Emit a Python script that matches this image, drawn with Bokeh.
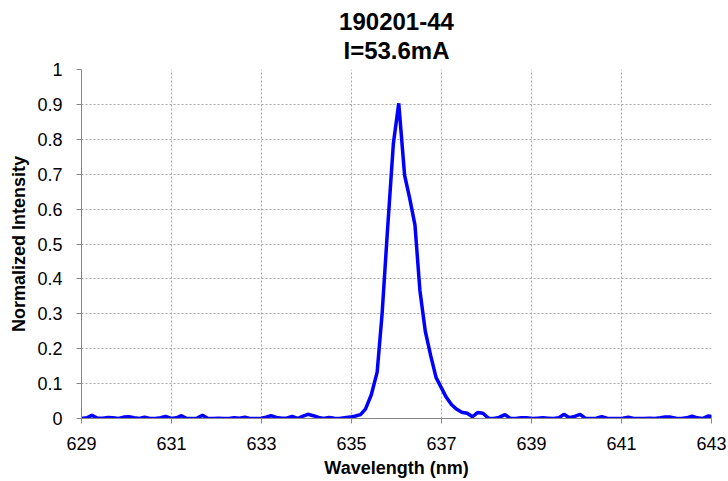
from bokeh.plotting import figure
from bokeh.models import Range1d, FixedTicker, CustomJSTickFormatter, Title
from bokeh.embed import file_html
from bokeh.resources import INLINE

title_line1 = "190201-44"
title_line2 = "I=53.6mA"
x_label = "Wavelength (nm)"
y_label = "Normalized Intensity"

x_ticks = [629, 631, 633, 635, 637, 639, 641, 643]
y_ticks = [0, 0.1, 0.2, 0.3, 0.4, 0.5, 0.6, 0.7, 0.8, 0.9, 1.0]

wavelength = [
    629.00, 629.12, 629.23, 629.35, 629.47, 629.59, 629.70, 629.82, 629.94, 630.05,
    630.17, 630.29, 630.40, 630.52, 630.64, 630.76, 630.87, 630.99, 631.11, 631.22,
    631.34, 631.46, 631.57, 631.69, 631.81, 631.93, 632.04, 632.16, 632.28, 632.39,
    632.51, 632.63, 632.74, 632.86, 632.98, 633.10, 633.21, 633.33, 633.45, 633.56,
    633.68, 633.80, 633.91, 634.03, 634.15, 634.27, 634.38, 634.50, 634.62, 634.73,
    634.85, 634.97, 635.09, 635.20, 635.31, 635.44, 635.57, 635.68, 635.80, 635.93,
    636.05, 636.18, 636.29, 636.41, 636.52, 636.64, 636.76, 636.88, 636.99, 637.10,
    637.22, 637.33, 637.45, 637.57, 637.69, 637.80, 637.92, 638.04, 638.16, 638.28,
    638.41, 638.53, 638.65, 638.77, 638.89, 639.01, 639.13, 639.25, 639.37, 639.49,
    639.61, 639.72, 639.84, 639.96, 640.08, 640.20, 640.32, 640.44, 640.56, 640.68,
    640.80, 640.91, 641.03, 641.15, 641.27, 641.38, 641.50, 641.62, 641.74, 641.86,
    641.97, 642.09, 642.21, 642.33, 642.45, 642.57, 642.68, 642.80, 642.92, 643.04,
]
intensity = [
    0.000, 0.002, 0.009, 0.001, 0.001, 0.003, 0.002, 0.000, 0.004, 0.005,
    0.002, 0.000, 0.004, 0.000, 0.000, 0.002, 0.006, 0.000, 0.002, 0.008,
    0.000, 0.000, 0.001, 0.009, 0.000, 0.000, 0.001, 0.000, 0.000, 0.002,
    0.001, 0.004, 0.000, 0.000, 0.000, 0.004, 0.008, 0.003, 0.001, 0.001,
    0.006, 0.000, 0.006, 0.012, 0.008, 0.003, 0.000, 0.003, 0.001, 0.000,
    0.002, 0.004, 0.007, 0.011, 0.027, 0.068, 0.133, 0.300, 0.540, 0.787,
    0.903, 0.697, 0.633, 0.555, 0.367, 0.250, 0.180, 0.117, 0.090, 0.062,
    0.040, 0.027, 0.018, 0.015, 0.005, 0.017, 0.015, 0.001, 0.000, 0.003,
    0.011, 0.000, 0.000, 0.002, 0.002, 0.000, 0.001, 0.002, 0.001, 0.000,
    0.002, 0.012, 0.002, 0.006, 0.012, 0.000, 0.000, 0.001, 0.005, 0.001,
    0.000, 0.000, 0.001, 0.004, 0.000, 0.000, 0.000, 0.001, 0.000, 0.002,
    0.004, 0.004, 0.001, 0.000, 0.002, 0.007, 0.002, 0.000, 0.007, 0.005,
]

FONT = "Liberation Sans"

p = figure(
    output_backend="svg", toolbar_location=None, title=None,
    width=728, height=481,
    min_border_left=81, min_border_right=17, min_border_top=69, min_border_bottom=63,
    x_range=Range1d(629, 643), y_range=Range1d(0, 1),
)
p.outline_line_color = None
p.background_fill_color = "white"
p.border_fill_color = "white"

t2 = Title(text=title_line2, align="center", text_font=FONT, text_font_size="24px",
           text_font_style="bold", text_color="black", standoff=11, offset=0)
p.add_layout(t2, "above")
t1 = Title(text=title_line1, align="center", text_font=FONT, text_font_size="24px",
           text_font_style="bold", text_color="black", standoff=0, offset=0)
p.add_layout(t1, "above")

p.line(wavelength, intensity, line_color="#0000FF", line_width=3.5)

# axes
p.xaxis.ticker = FixedTicker(ticks=x_ticks)
p.yaxis.ticker = FixedTicker(ticks=y_ticks)
p.yaxis.formatter = CustomJSTickFormatter(code="return tick.toFixed(1).replace(/\\.0$/, '');")
for ax in [p.xaxis[0], p.yaxis[0]]:
    ax.axis_line_color = "#868686"
    ax.axis_line_width = 1
    ax.major_tick_line_color = "#868686"
    ax.major_tick_in = 0
    ax.major_tick_out = 5
    ax.minor_tick_line_color = None
    ax.major_label_text_font = FONT
    ax.major_label_text_font_size = "18px"
    ax.major_label_text_color = "black"
    ax.axis_label_text_font = FONT
    ax.axis_label_text_font_size = "18px"
    ax.axis_label_text_font_style = "bold"
    ax.axis_label_text_color = "black"
p.xaxis.axis_label = x_label
p.yaxis.axis_label = y_label
p.xaxis.major_label_standoff = 13
p.yaxis.major_label_standoff = 14
p.xaxis.axis_label_standoff = 5
p.yaxis.axis_label_standoff = 5

for g in [p.xgrid[0], p.ygrid[0]]:
    g.grid_line_color = "#a6a6a6"
    g.grid_line_dash = "2 2"
    g.grid_line_width = 1

open("out.html", "w").write(file_html(p, INLINE))
